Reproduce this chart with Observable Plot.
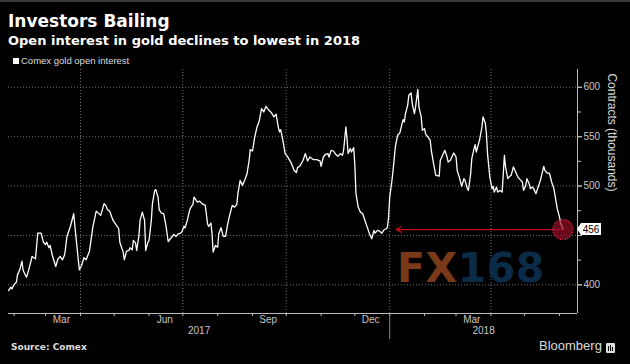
<!DOCTYPE html>
<html><head><meta charset="utf-8">
<script src="https://cdn.jsdelivr.net/npm/d3@7"></script>
<script src="https://cdn.jsdelivr.net/npm/@observablehq/plot@0.6"></script>
<style>
html,body{margin:0;padding:0;background:#000;}
#wrap{position:relative;width:630px;height:364px;background:#000;overflow:hidden;}
#topbar{position:absolute;left:0;top:0;width:630px;height:2px;background:#3a3a3a;}
#head{position:relative;height:66px;}
.title{position:absolute;left:8px;top:13px;font:bold 17px/17px "DejaVu Sans",sans-serif;color:#fff;white-space:nowrap;}
.subtitle{position:absolute;left:8px;top:34px;font:bold 13px/13px "DejaVu Sans",sans-serif;color:#fff;white-space:nowrap;}
.legend{position:absolute;left:13px;top:56px;font:9.5px/9px "Liberation Sans",Arial,sans-serif;color:#ddd;white-space:nowrap;}
.legend .sw{display:inline-block;width:6px;height:6px;background:#fff;margin-right:2px;vertical-align:0px;}
#chart{height:277px;}
#chart svg{display:block;}
#foot{position:relative;height:21px;}
.source{position:absolute;left:11px;top:0px;font:bold 9px/9px "DejaVu Sans",sans-serif;color:#ddd;white-space:nowrap;}
.brand{position:absolute;left:539px;top:-3px;font:13px/12px "Liberation Sans",Arial,sans-serif;color:#ddd;white-space:nowrap;}
.logo{position:absolute;left:606px;top:0px;}
#wm{position:absolute;left:397px;top:248px;font:bold 41px/40px "DejaVu Sans",sans-serif;white-space:nowrap;letter-spacing:0.5px;}
</style></head><body>
<div id="wrap">
  <div id="topbar"></div>
  <div id="head">
    <div class="title">Investors Bailing</div>
    <div class="subtitle">Open interest in gold declines to lowest in 2018</div>
    <div class="legend"><span class="sw"></span>Comex gold open interest</div>
  </div>
  <div id="chart"></div>
  <div id="foot">
    <div class="source">Source: Comex</div>
    <div class="brand">Bloomberg</div>
    <svg class="logo" width="9" height="10"><rect x="0" y="0" width="9" height="10" rx="1" fill="#ddd"/><rect x="2" y="3" width="1" height="5" fill="#000"/><rect x="4" y="2" width="1" height="6" fill="#000"/><rect x="6" y="4" width="1" height="4" fill="#000"/></svg>
  </div>
  <div id="wm"><span style="color:#7a3a18">FX</span><span style="color:#0b2c48">168</span></div>
</div>
<script>
const dates = [
"2017-01-27","2017-01-29","2017-01-30","2017-02-01","2017-02-03","2017-02-04","2017-02-06","2017-02-08","2017-02-09","2017-02-12",
"2017-02-14","2017-02-17","2017-02-20","2017-02-22","2017-02-25","2017-02-27","2017-03-01","2017-03-02","2017-03-04","2017-03-05",
"2017-03-07","2017-03-10","2017-03-12","2017-03-14","2017-03-16","2017-03-18","2017-03-20","2017-03-23","2017-03-26","2017-03-28",
"2017-03-31","2017-04-02","2017-04-04","2017-04-06","2017-04-09","2017-04-12","2017-04-15","2017-04-17","2017-04-19","2017-04-22",
"2017-04-24","2017-04-25","2017-04-27","2017-04-30","2017-05-03","2017-05-05","2017-05-06","2017-05-09","2017-05-10","2017-05-12",
"2017-05-14","2017-05-15","2017-05-17","2017-05-18","2017-05-20","2017-05-21","2017-05-23","2017-05-24","2017-05-26","2017-05-28",
"2017-05-29","2017-05-31","2017-06-01","2017-06-03","2017-06-04","2017-06-06","2017-06-07","2017-06-09","2017-06-10","2017-06-12",
"2017-06-14","2017-06-16","2017-06-18","2017-06-20","2017-06-23","2017-06-25","2017-06-27","2017-06-29","2017-06-30","2017-07-02",
"2017-07-03","2017-07-05","2017-07-07","2017-07-08","2017-07-10","2017-07-11","2017-07-14","2017-07-16","2017-07-18","2017-07-21",
"2017-07-23","2017-07-24","2017-07-26","2017-07-27","2017-07-28","2017-07-30","2017-08-01","2017-08-02","2017-08-04","2017-08-06",
"2017-08-08","2017-08-10","2017-08-12","2017-08-14","2017-08-16","2017-08-18","2017-08-19","2017-08-21","2017-08-23","2017-08-25",
"2017-08-27","2017-08-29","2017-08-30","2017-09-01","2017-09-03","2017-09-05","2017-09-07","2017-09-09","2017-09-11","2017-09-13",
"2017-09-15","2017-09-18","2017-09-20","2017-09-22","2017-09-24","2017-09-25","2017-09-26","2017-09-28","2017-09-30","2017-10-02",
"2017-10-05","2017-10-07","2017-10-08","2017-10-10","2017-10-11","2017-10-13","2017-10-16","2017-10-18","2017-10-20","2017-10-22",
"2017-10-25","2017-10-28","2017-10-31","2017-11-01","2017-11-03","2017-11-05","2017-11-07","2017-11-08","2017-11-10","2017-11-12",
"2017-11-14","2017-11-16","2017-11-18","2017-11-20","2017-11-21","2017-11-23","2017-11-24","2017-11-25","2017-11-27","2017-11-28",
"2017-11-30","2017-12-01","2017-12-02","2017-12-04","2017-12-06","2017-12-08","2017-12-10","2017-12-12","2017-12-14","2017-12-16",
"2017-12-18","2017-12-19","2017-12-21","2017-12-23","2017-12-25","2017-12-27","2017-12-29","2017-12-30","2017-12-31","2018-01-01",
"2018-01-03","2018-01-04","2018-01-06","2018-01-08","2018-01-10","2018-01-12","2018-01-13","2018-01-14","2018-01-15","2018-01-17",
"2018-01-18","2018-01-20","2018-01-21","2018-01-23","2018-01-24","2018-01-26","2018-01-27","2018-01-29","2018-01-30","2018-02-01",
"2018-02-02","2018-02-04","2018-02-06","2018-02-07","2018-02-09","2018-02-11","2018-02-14","2018-02-15","2018-02-17","2018-02-19",
"2018-02-21","2018-02-22","2018-02-24","2018-02-26","2018-02-27","2018-03-01","2018-03-02","2018-03-04","2018-03-06","2018-03-08",
"2018-03-09","2018-03-11","2018-03-12","2018-03-14","2018-03-15","2018-03-17","2018-03-18","2018-03-19","2018-03-21","2018-03-22",
"2018-03-24","2018-03-25","2018-03-27","2018-03-28","2018-03-29","2018-03-31","2018-04-02","2018-04-03","2018-04-04","2018-04-06",
"2018-04-07","2018-04-09","2018-04-11","2018-04-13","2018-04-14","2018-04-16","2018-04-17","2018-04-19","2018-04-21","2018-04-23",
"2018-04-25","2018-04-27","2018-04-29","2018-04-30","2018-05-02","2018-05-03","2018-05-05","2018-05-06","2018-05-08","2018-05-09",
"2018-05-11","2018-05-13","2018-05-15","2018-05-18","2018-05-19","2018-05-21","2018-05-23","2018-05-25","2018-05-27","2018-05-29",
"2018-05-30","2018-06-01","2018-06-02","2018-06-03","2018-06-04"
];
const openInterest = [
394.2,397.6,395.9,400.3,402.6,410.1,415.2,423.9,414.5,407.7,
415.2,428.7,426.4,452.3,452.3,443.2,440.9,443.2,437.5,439.9,
429.7,418.6,426.4,428.7,425.4,430.7,449.0,459.1,472.0,448.3,
415.2,419.6,427.4,425.4,434.1,458.4,474.6,472.6,470.3,482.2,
479.4,476.1,474.6,465.2,460.1,456.8,443.2,433.1,425.4,434.1,
434.8,437.5,435.5,444.9,442.2,434.8,450.0,465.2,473.6,465.2,
434.8,443.2,444.9,465.2,482.2,495.6,496.4,488.8,476.1,472.6,
472.0,460.1,443.9,446.7,451.0,449.0,451.7,452.3,453.3,459.1,
457.8,465.2,475.4,478.1,481.4,488.8,483.8,484.8,482.2,480.4,
461.9,459.1,462.5,451.7,433.1,439.9,438.1,451.7,457.8,449.0,
449.0,461.9,472.0,480.4,478.7,481.4,492.3,505.8,500.7,505.8,
511.9,526.1,536.9,535.5,549.7,559.8,565.9,578.5,575.0,580.8,
577.5,574.0,570.0,572.7,559.2,554.8,557.2,546.3,532.9,530.1,
524.3,518.7,516.0,513.6,518.7,520.0,526.1,532.9,525.4,529.4,
526.8,526.8,525.4,520.0,529.4,532.2,532.9,529.4,536.2,535.5,
532.2,530.1,532.9,531.1,536.2,559.8,548.1,532.9,537.9,534.5,
538.9,521.0,492.3,478.7,473.6,472.0,465.2,458.4,451.7,446.7,
455.1,452.3,455.1,454.4,452.3,455.8,456.8,458.4,468.6,488.8,
505.8,515.9,539.6,551.4,553.8,563.3,567.3,564.9,573.4,581.8,
592.0,594.3,583.6,573.4,580.1,597.8,580.1,570.0,556.5,558.2,
552.4,549.7,546.3,536.2,522.7,510.9,510.1,526.1,531.1,536.2,
529.4,524.3,526.1,531.1,533.5,529.4,515.9,508.5,499.7,507.5,
505.8,497.4,495.6,512.6,527.8,537.9,542.0,534.5,543.0,547.1,
559.8,570.0,563.9,553.1,532.9,509.1,497.4,499.7,493.9,499.0,
493.9,495.6,493.9,531.1,519.3,507.5,509.1,510.9,519.3,514.2,
509.1,506.5,504.1,495.6,500.7,507.5,502.4,497.4,499.0,497.4,
492.3,499.0,505.8,520.0,515.9,513.2,513.2,504.1,497.4,483.8,
477.1,468.6,461.9,460.1,456
];
const yTicks = [400, 450, 500, 550, 600];
const yMinorTicks = [425, 475, 525, 575];
const gridDates = ["2017-04-01","2017-07-01","2017-10-01","2018-01-01","2018-04-01"];
const monthLabelDates = ["2017-03-15","2017-06-15","2017-09-15","2017-12-15","2018-03-15"];
const monthLabels = ["Mar","Jun","Sep","Dec","Mar"];
const yearLabels = ["2017","2018"];
const yearBoundary = "2018-01-01";
const xStart = "2017-01-27", xEnd = "2018-06-17";
const yMin = 371, yMax = 618;
const arrowTarget = "2018-01-07";
const yLabel = "Contracts (thousands)";

const data = dates.map((d, i) => ({date: new Date(d), value: openInterest[i]}));
const last = data[data.length - 1];
const xDomain = [new Date(xStart), new Date(xEnd)];
const yb = new Date(yearBoundary);
const yearMid = [
  new Date((xDomain[0].getTime() + yb.getTime()) / 2),
  new Date((yb.getTime() + xDomain[1].getTime()) / 2)
];
const monthStarts = d3.utcMonth.range(xDomain[0], xDomain[1]);
const calloutValue = Math.round(last.value);
// the tick label hidden under the value callout in the original
const yLabelTicks = yTicks.filter(t => Math.abs(t - calloutValue) > 10);

const chart = Plot.plot({
  width: 630, height: 277,
  marginLeft: 8, marginRight: 53, marginTop: 3, marginBottom: 30,
  style: {background: "#000", color: "#c8c8c8", fontFamily: "'Liberation Sans', Arial, sans-serif", fontSize: "10px", overflow: "visible"},
  x: {type: "utc", domain: xDomain, axis: null, label: null},
  y: {domain: [yMin, yMax], axis: null, label: null},
  marks: [
    Plot.ruleY(yTicks, {stroke: "#6e6e6e", strokeDasharray: "1,2"}),
    Plot.ruleX(gridDates.map(d => new Date(d)), {stroke: "#6e6e6e", strokeDasharray: "1,2"}),
    Plot.ruleY([yMin], {stroke: "#bdbdbd"}),
    Plot.ruleX([xDomain[1]], {stroke: "#bdbdbd"}),
    Plot.axisX({ticks: monthStarts, tickSize: 3, tickFormat: () => "", stroke: "#bdbdbd"}),
    Plot.text(monthLabelDates.map(d => new Date(d)), {x: d => d, text: (d, i) => monthLabels[i], frameAnchor: "bottom", dy: 9, fill: "#c8c8c8", fontSize: 10}),
    Plot.text(yearMid, {x: d => d, text: (d, i) => yearLabels[i], frameAnchor: "bottom", dy: 20, fill: "#c8c8c8", fontSize: 10}),
    Plot.ruleX([yb], {y1: () => yMin, y2: () => yMin, insetBottom: -26, stroke: "#8a8a8a"}),
    Plot.axisY({anchor: "right", ticks: yTicks, tickSize: 4, tickFormat: () => "", stroke: "#bdbdbd"}),
    Plot.axisY({anchor: "right", ticks: yLabelTicks, tickSize: 4, tickPadding: 2, stroke: "#bdbdbd", fill: "#c8c8c8", fontSize: 10}),
    Plot.axisY({anchor: "right", ticks: yMinorTicks, tickSize: 3, tickFormat: () => "", stroke: "#bdbdbd"}),
    Plot.text([yLabel], {frameAnchor: "right", dx: 34, rotate: 90, fontSize: 12, fill: "#dcdcdc"}),
    Plot.line(data, {x: "date", y: "value", stroke: "#ffffff", strokeWidth: 1.3}),
    Plot.arrow([last], {x1: "date", y1: "value", x2: () => new Date(arrowTarget), y2: "value", stroke: "#d0101e", strokeWidth: 1.2, strokeDasharray: "1.5,1", headLength: 7}),
    Plot.dot([last], {x: "date", y: "value", r: 10, fill: "#a0102a", fillOpacity: 0.65, stroke: "#ec2a44", strokeWidth: 1.5, strokeDasharray: "1,1.5"})
  ]
});
document.getElementById("chart").appendChild(chart);

// value callout at the right axis, positioned via the chart's scales
const px = chart.scale("x").apply(xDomain[1]);
const py = chart.scale("y").apply(last.value);
const g = d3.select(chart).append("g");
g.append("path")
  .attr("d", `M${px},${py} L${px + 4},${py - 6} H${px + 24} V${py + 6} H${px + 4} Z`)
  .attr("fill", "#ffffff");
g.append("text")
  .attr("x", px + 14).attr("y", py).attr("dy", "0.35em")
  .attr("text-anchor", "middle").attr("fill", "#000")
  .attr("font-size", 10).attr("font-family", "'Liberation Sans', Arial, sans-serif")
  .text(calloutValue);
</script>
</body></html>
